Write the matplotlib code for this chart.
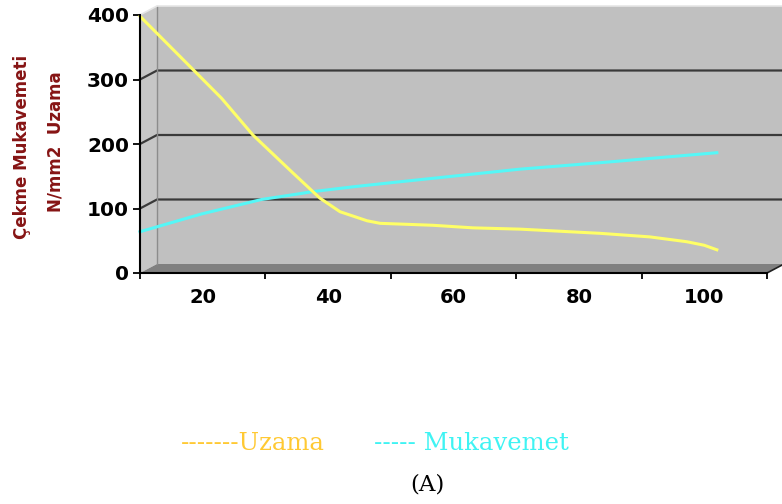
import numpy as np
import matplotlib
matplotlib.use("Agg")
import matplotlib.pyplot as plt
from matplotlib.patches import Polygon
from matplotlib.transforms import IdentityTransform

# data
categories = [20, 40, 60, 80, 100]
cat_edges = [10, 30, 50, 70, 90, 110]
y_ticks = [0, 100, 200, 300, 400]

uzama_x = [10, 18.5, 23, 28, 34.4, 38.7, 41.9, 46.2, 48.3, 56.7, 63.1, 70.6, 83.4, 91.3, 97.2, 100, 102]
uzama_y = [398, 315, 271, 214, 155, 116, 95, 81, 77, 74, 70, 68, 61.5, 56, 48.5, 43, 36]

mukavemet_x = [10, 19.8, 29.4, 35.5, 37.4, 44.3, 51.5, 70.6, 83.4, 102]
mukavemet_y = [64, 91.5, 114, 123, 126, 134, 141.5, 161, 171, 186.5]

W, H = 782, 504
DX, DY = 17, 9   # depth of the fake 3d box, pixels

fig = plt.figure(figsize=(W / 100, H / 100), dpi=100)
ax = fig.add_axes([140 / W, 1 - 273 / H, (767 - 140) / W, (273 - 15) / H])
ax.set_xlim(cat_edges[0], cat_edges[-1])
ax.set_ylim(0, 400)
ax.patch.set_visible(False)


def px(x, y, back=False):
    p = ax.transData.transform((x, y))
    if back:
        p = p + np.array([DX, DY])
    return p


def box(pts, color, z, ec="none", lw=0):
    poly = Polygon(pts, closed=True, facecolor=color, edgecolor=ec, linewidth=lw,
                   transform=IdentityTransform(), clip_on=False, zorder=z)
    ax.add_patch(poly)


x0, x1 = cat_edges[0], cat_edges[-1]
# back wall
box([px(x0, 0, True), px(x1 + 5, 0, True), px(x1 + 5, 400, True), px(x0, 400, True)], "#c0c0c0", 0.1)
# side wall
box([px(x0, 0), px(x0, 0, True), px(x0, 400, True), px(x0, 400)], "#c6c6c6", 0.2)
# floor
box([px(x0, 0), px(x1, 0), px(x1, 0, True), px(x0, 0, True)], "#808080", 0.3)

# gridlines on the back wall plus the short diagonals on the side wall
for v in y_ticks[1:-1]:
    a, b, c = px(x0, v), px(x0, v, True), px(x1 + 5, v, True)
    ax.plot([a[0], b[0], c[0]], [a[1], b[1], c[1]], color="#3a3a3a", lw=1.6,
            transform=IdentityTransform(), clip_on=False, zorder=0.5)
# edges
a, b = px(x0, 0, True), px(x0, 400, True)
ax.plot([a[0], b[0]], [a[1], b[1]], color="#8c8c8c", lw=1, transform=IdentityTransform(), clip_on=False, zorder=0.5)
a, b, c = px(x0, 400), px(x0, 400, True), px(x1 + 5, 400, True)
ax.plot([a[0], b[0], c[0]], [a[1], b[1], c[1]], color="#e6e6e6", lw=1.2, transform=IdentityTransform(), clip_on=False, zorder=0.5)
a, b = px(x1, 0), px(x1, 0, True)
ax.plot([a[0], b[0]], [a[1], b[1]], color="#202020", lw=1.2, transform=IdentityTransform(), clip_on=False, zorder=0.5)

ax.plot(mukavemet_x, mukavemet_y, color="#55f7f7", lw=2.2, zorder=3, clip_on=False)
ax.plot(uzama_x, uzama_y, color="#ffff66", lw=2.2, zorder=3, clip_on=False)

for s in ["top", "right"]:
    ax.spines[s].set_visible(False)
for s in ["left", "bottom"]:
    ax.spines[s].set_color("black")
    ax.spines[s].set_linewidth(1.5)
    ax.spines[s].set_zorder(4)

ax.set_yticks(y_ticks)
ax.set_yticklabels([str(v) for v in y_ticks], fontsize=14.5, fontweight="bold", family="DejaVu Sans")
ax.tick_params(axis="y", direction="out", length=5, width=1.3, pad=3)

ax.set_xticks(cat_edges)
ax.set_xticklabels([])
ax.set_xticks(categories, minor=True)
ax.set_xticklabels([str(c) for c in categories], minor=True, fontsize=14, fontweight="bold", family="DejaVu Sans")
ax.tick_params(axis="x", which="major", direction="out", length=4.5, width=1.3)
ax.tick_params(axis="x", which="minor", length=0, pad=11)

lab = dict(rotation=90, ha="center", va="center", color="#861414", fontweight="bold",
           fontsize=12, family="DejaVu Sans")
fig.text(22 / W, 1 - 147 / H, "Çekme Mukavemeti", **lab)
fig.text(55 / W, 1 - 142 / H, "N/mm2  Uzama", **lab)

fig.text(181 / W, 1 - 444 / H, "-------Uzama", color="#ffc933", fontsize=17.5,
         family="DejaVu Serif", va="center", ha="left")
fig.text(374 / W, 1 - 444 / H, "----- Mukavemet", color="#3ff3f3", fontsize=17.5,
         family="DejaVu Serif", va="center", ha="left")
fig.text(427 / W, 1 - 485 / H, "(A)", color="black", fontsize=16.5,
         family="DejaVu Serif", va="center", ha="center")

fig.savefig("out.png", dpi=100)
